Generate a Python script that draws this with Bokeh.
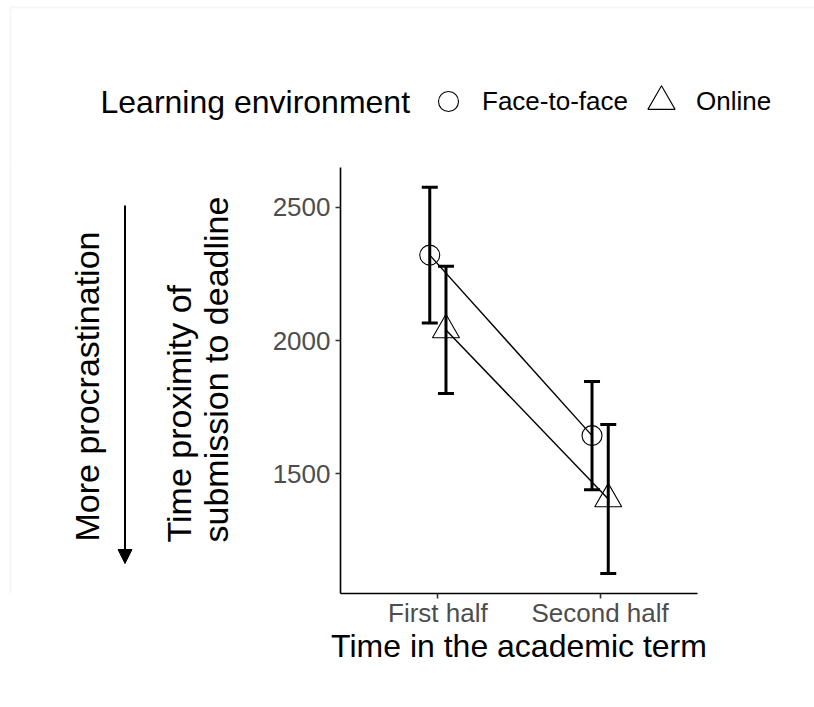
import numpy as np
from bokeh.plotting import figure
from bokeh.layouts import column, row
from bokeh.models import (ColumnDataSource, Range1d, FixedTicker, Whisker, TeeHead,
                          Label, Arrow, NormalHead, Legend, LegendItem, BoxAnnotation)
from bokeh.transform import dodge
from bokeh.embed import file_html
from bokeh.resources import INLINE

# Submission timing by period and learning environment (mean with error bars)
periods = ["First half", "Second half"]
groups = ["Face-to-face", "Online"]
ftf_mean = [2321, 1643]
ftf_lower = [2066, 1440]
ftf_upper = [2576, 1846]
online_mean = [2040, 1405]
online_lower = [1801, 1125]
online_upper = [2279, 1685]
y_ticks = [1500, 2000, 2500]

FONT = "Liberation Sans"
DODGE = 0.05
W, H = 814, 707
TOP_H = 167          # height of the legend strip
LEFT_W = 240         # width of the strip holding the y-axis title
BOTTOM = 114         # space under the plotting area for the x axis


def blank(width, height, x0, y0, border_bottom=0):
    """A figure without axes whose data units are page pixels (y grows downward)."""
    inner_h = height - border_bottom
    f = figure(width=width, height=height, output_backend="svg", toolbar_location=None,
               x_range=Range1d(x0, x0 + width), y_range=Range1d(y0 + inner_h, y0),
               x_axis_location=None, y_axis_location=None,
               min_border=0, min_border_bottom=border_bottom)
    f.grid.visible = False
    f.outline_line_color = None
    f.title.visible = False
    # faint page frame
    f.add_layout(BoxAnnotation(left=10, top=7, right=5000, bottom=5000,
                               fill_alpha=0, line_color="#e2e2e2", line_width=2))
    return f


x_pos = list(range(1, len(periods) + 1))
src_ftf = ColumnDataSource(dict(x=x_pos, mean=ftf_mean, lower=ftf_lower, upper=ftf_upper))
src_onl = ColumnDataSource(dict(x=x_pos, mean=online_mean, lower=online_lower, upper=online_upper))

# ---- main panel -------------------------------------------------------------
p = figure(width=W - LEFT_W, height=H - TOP_H, output_backend="svg", toolbar_location=None,
           x_range=Range1d(0.4, 2.6), y_range=Range1d(1050, 2650),
           min_border_left=340 - LEFT_W, min_border_right=117,
           min_border_top=0, min_border_bottom=BOTTOM)
p.grid.visible = False
p.outline_line_color = None
p.title.visible = False

p.xaxis.ticker = FixedTicker(ticks=x_pos)
p.xaxis.major_label_overrides = {x: lab for x, lab in zip(x_pos, periods)}
p.yaxis.ticker = FixedTicker(ticks=y_ticks)
for ax in (p.xaxis[0], p.yaxis[0]):
    ax.axis_line_color = "black"
    ax.axis_line_width = 1.6
    ax.major_tick_line_color = "#333333"
    ax.major_tick_line_width = 1.6
    ax.major_tick_out = 5
    ax.major_tick_in = 0
    ax.minor_tick_out = 0
    ax.minor_tick_in = 0
    ax.major_label_text_font = FONT
    ax.major_label_text_font_size = "26px"
    ax.major_label_text_color = "#4D4D4D"
p.yaxis.major_label_standoff = 5
p.xaxis.major_label_standoff = -1
p.xaxis.axis_label = "Time in the academic term"
p.xaxis.axis_label_text_font = FONT
p.xaxis.axis_label_text_font_size = "32px"
p.xaxis.axis_label_text_font_style = "normal"
p.xaxis.axis_label_text_color = "black"
p.xaxis.axis_label_standoff = -3

# error bars
for src, off in ((src_ftf, -DODGE), (src_onl, DODGE)):
    p.add_layout(Whisker(base=dodge("x", off), upper="upper", lower="lower", source=src,
                         dimension="height", line_color="black", line_width=3,
                         upper_head=TeeHead(size=16, line_width=3, line_color="black"),
                         lower_head=TeeHead(size=16, line_width=3, line_color="black")))

# connecting lines
p.line(x=dodge("x", -DODGE), y="mean", source=src_ftf, line_color="black", line_width=1.4)
p.line(x=dodge("x", DODGE), y="mean", source=src_onl, line_color="black", line_width=1.4)

# points
marker_style = dict(fill_color=None, line_color="black", line_width=1.1)
p.scatter(x=dodge("x", -DODGE), y="mean", source=src_ftf, marker="circle", size=20, **marker_style)
p.scatter(x=dodge("x", DODGE), y="mean", source=src_onl, marker="triangle", size=27, **marker_style)

# ---- legend strip -----------------------------------------------------------
top = blank(W, TOP_H, 0, 0)
top.add_layout(Label(x=100, y=101, text="Learning environment", text_font=FONT,
                     text_font_size="32px", text_baseline="middle", text_align="left",
                     text_color="black"))

# hidden copies of the point renderers that only feed the legend glyphs
key_ftf = top.scatter(x="x", y="mean", source=src_ftf, marker="circle", visible=False, **marker_style)
key_onl = top.scatter(x="x", y="mean", source=src_onl, marker="triangle", visible=False, **marker_style)


def make_legend(label, renderer, box, loc, standoff):
    return Legend(items=[LegendItem(label=label, renderers=[renderer])],
                  location=loc, orientation="horizontal",
                  glyph_width=box, glyph_height=box, label_standoff=standoff,
                  padding=0, margin=0, spacing=0,
                  border_line_color=None, background_fill_alpha=0,
                  label_text_font=FONT, label_text_font_size="26px",
                  label_text_color="black")


# one Legend per entry so each marker keeps its own size
top.add_layout(make_legend(groups[0], key_ftf, 50, (423, TOP_H - 126), 9))
top.add_layout(make_legend(groups[1], key_onl, 68, (627, TOP_H - 135), 1))

# ---- y-axis title strip -----------------------------------------------------
left = blank(LEFT_W, H - TOP_H, 0, TOP_H, border_bottom=BOTTOM)
for txt, cx in (("Time proximity of", 178), ("submission to deadline", 215)):
    left.add_layout(Label(x=cx, y=542, text=txt, angle=np.pi / 2, text_font=FONT,
                          text_font_size="34px", text_baseline="middle",
                          text_align="left", text_color="black"))

left.add_layout(Label(x=86, y=386, text="More procrastination", angle=np.pi / 2,
                      text_font=FONT, text_font_size="34px", text_baseline="middle",
                      text_align="center", text_color="black"))
left.add_layout(Arrow(x_start=124.5, y_start=205, x_end=124.5, y_end=563,
                      line_color="black", line_width=2,
                      end=NormalHead(size=14, fill_color="black", line_color="black")))

layout = column(top, row(left, p, spacing=0), spacing=0)
open("out.html", "w").write(file_html(layout, INLINE))
